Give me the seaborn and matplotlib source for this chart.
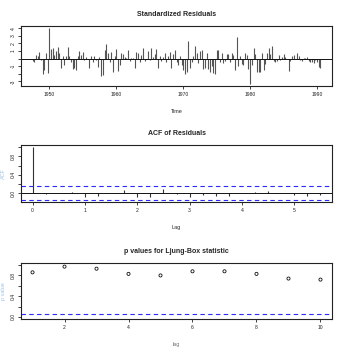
import numpy as np
import pandas as pd
import matplotlib
matplotlib.use("Agg")
import matplotlib.pyplot as plt
import seaborn as sns

# ---- data ----
resid_start = 1947.5
resid_freq = 4
std_resid = [
    -0.3, -0.4, 0.5, 0.3, 0.9, -0.2, -2.0, -1.5, 0.8, -1.9,
    4.0, 1.3, 1.4, 0.5, 1.0, 1.5, 0.8, -1.2, 0.3, -0.8,
    0.4, 1.5, 0.4, -0.5, -1.3, -1.2, -1.5, 0.3, 1.0, 0.5,
    0.9, -0.2, 0.2, -0.1, -1.2, 0.3, -0.5, 0.4, -0.2, -1.1,
    0.2, -2.3, -2.2, 1.2, 1.9, 0.8, -0.5, 0.9, -1.7, 0.3,
    1.3, -1.6, -0.8, 0.8, 0.6, 0.2, 0.1, 1.2, -0.3, 0.1,
    0.1, -1.2, 0.9, 0.8, -0.5, 0.5, 1.4, -0.3, -0.1, 1.0,
    -0.2, 1.4, 0.2, 0.6, 1.3, -1.2, 0.3, -0.3, 0.2, 0.7,
    -0.5, 0.4, 0.9, -1.2, 0.6, 1.1, -0.5, -0.8, 0.4, -0.8,
    -1.5, -2.0, -1.7, 2.3, -1.2, -0.5, 0.4, 1.6, 0.8, -0.6,
    1.0, 1.2, -1.3, -1.2, 0.7, -1.4, -1.8, -0.9, -1.9, -2.0,
    1.2, 1.1, -0.4, 0.8, -0.6, -0.3, 0.6, 0.6, -0.4, 0.8,
    0.5, -1.5, 2.8, -1.0, 0.3, -0.7, -0.8, 0.7, 0.5, -1.3,
    -3.3, -0.8, 1.4, 0.6, -1.8, -1.7, -1.8, 0.7, -1.5, -0.7,
    0.7, 1.4, 0.6, 1.6, -0.3, -0.5, -0.3, 0.5, -0.2, 0.2,
    0.6, 0.2, -0.1, -1.6, -0.3, 0.4, 0.5, 0.0, 0.7, 0.3,
    -0.2, -0.3, 0.1, 0.1, 0.2, -0.3, -0.5, -0.4, -0.6, -0.2,
    -0.5, -1.1, -1.2,
]
acf_lags = [0.0, 0.25, 0.5, 0.75, 1.0, 1.25, 1.5, 1.75, 2.0, 2.25, 2.5, 2.75,
            3.0, 3.25, 3.5, 3.75, 4.0, 4.25, 4.5, 4.75, 5.0, 5.25, 5.5]
acf_vals = [1.0, -0.02, 0.0, 0.03, -0.09, -0.07, 0.0, 0.06, -0.09, -0.09, 0.08, -0.01,
            -0.09, -0.04, -0.06, -0.07, 0.01, 0.02, 0.05, 0.0, -0.04, -0.06, -0.05]
acf_clim = 0.148
lb_lags = [1, 2, 3, 4, 5, 6, 7, 8, 9, 10]
lb_pvals = [0.86, 0.97, 0.93, 0.83, 0.80, 0.88, 0.88, 0.83, 0.74, 0.72]
lb_sig = 0.05

resid_time = [resid_start + i / resid_freq for i in range(len(std_resid))]
df_res = pd.DataFrame({"Time": resid_time, "resid": std_resid})
df_acf = pd.DataFrame({"Lag": acf_lags, "ACF": acf_vals})
df_lb = pd.DataFrame({"lag": lb_lags, "p": lb_pvals})

sns.set_theme(style="ticks")
plt.rcParams["font.family"] = ["Liberation Sans", "DejaVu Sans"]

W, H = 346, 352
fig = plt.figure(figsize=(W / 100, H / 100), dpi=100)

def rect(l, t, r, b):
    return [l / W, 1 - b / H, (r - l) / W, (b - t) / H]

ax1 = fig.add_axes(rect(21, 26, 332, 86))
ax2 = fig.add_axes(rect(21, 145, 332, 202))
ax3 = fig.add_axes(rect(21, 263, 332, 319))

def rlim(lo, hi):
    pad = (hi - lo) * 0.04
    return lo - pad, hi + pad

TICK_FS = 3.6
TITLE_FS = 5.0
LABEL_FS = 4.0
BLUE = "#2b2bff"

def style(ax):
    for s in ax.spines.values():
        s.set_color("#222222")
        s.set_linewidth(0.8)
        s.set_visible(True)
    ax.tick_params(axis="both", length=2, width=0.6, pad=2,
                   labelsize=TICK_FS, colors="#222222", direction="out")
    for lab in ax.get_yticklabels():
        lab.set_rotation(90)
        lab.set_va("center")

# ---- Standardized residuals ----
ax1.vlines(df_res["Time"], 0, df_res["resid"], color="#555555", linewidth=0.8)
ax1.axhline(0, color="#111111", linewidth=0.7)
ax1.set_xlim(*rlim(min(resid_time), max(resid_time)))
ax1.set_ylim(*rlim(min(std_resid), max(std_resid)))
ax1.set_xticks([1950, 1960, 1970, 1980, 1990])
ax1.set_yticks([-3, -2, -1, 0, 1, 2, 3, 4])
ax1.set_yticklabels(["-3", "", "-1", "", "1", "2", "3", "4"])
ax1.set_title("Standardized Residuals", fontsize=TITLE_FS, fontweight="bold", pad=7)
ax1.set_xlabel("Time", fontsize=LABEL_FS, labelpad=9)
ax1.set_ylabel("")
style(ax1)

# ---- ACF of residuals ----
ax2.vlines(df_acf["Lag"], 0, df_acf["ACF"], color="#333333", linewidth=0.8)
ax2.axhline(0, color="#111111", linewidth=0.7)
ax2.axhline(acf_clim, color=BLUE, linestyle=(0, (4, 3)), linewidth=0.8)
ax2.axhline(-acf_clim, color=BLUE, linestyle=(0, (4, 3)), linewidth=0.8)
ax2.set_xlim(*rlim(min(acf_lags), max(acf_lags)))
ax2.set_ylim(*rlim(min(min(acf_vals), -acf_clim), max(max(acf_vals), acf_clim)))
ax2.set_xticks([0, 1, 2, 3, 4, 5])
ax2.set_yticks([0.0, 0.2, 0.4, 0.6, 0.8, 1.0])
ax2.set_yticklabels(["0.0", "", "0.4", "", "0.8", ""])
ax2.set_title("ACF of Residuals", fontsize=TITLE_FS, fontweight="bold", pad=7)
ax2.set_xlabel("Lag", fontsize=LABEL_FS, labelpad=9)
ax2.set_ylabel("ACF", fontsize=LABEL_FS, color="#9fc3e6", labelpad=3)
style(ax2)

# ---- Ljung-Box p values ----
sns.scatterplot(data=df_lb, x="lag", y="p", ax=ax3, marker="o", s=5,
                facecolor="none", edgecolor="#111111", linewidth=0.6)
ax3.axhline(lb_sig, color=BLUE, linestyle=(0, (4, 3)), linewidth=0.8)
ax3.set_xlim(*rlim(min(lb_lags), max(lb_lags)))
ax3.set_ylim(*rlim(0, 1))
ax3.set_xticks([2, 4, 6, 8, 10])
ax3.set_yticks([0.0, 0.2, 0.4, 0.6, 0.8, 1.0])
ax3.set_yticklabels(["0.0", "", "0.4", "", "0.8", ""])
ax3.set_title("p values for Ljung-Box statistic", fontsize=TITLE_FS, fontweight="bold", pad=7)
ax3.set_xlabel("lag", fontsize=LABEL_FS, labelpad=9, color="#777777")
ax3.set_ylabel("p value", fontsize=LABEL_FS, color="#9fc3e6", labelpad=3)
style(ax3)

fig.savefig("out.png", dpi=100, facecolor="white")
